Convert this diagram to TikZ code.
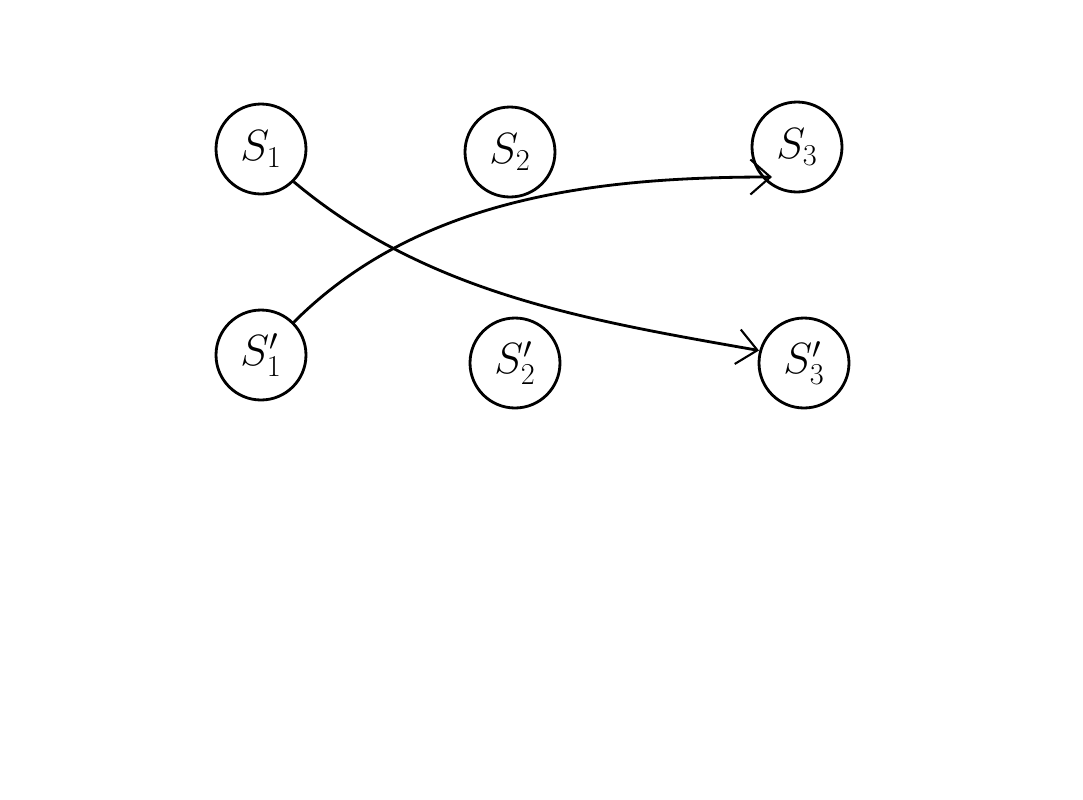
\documentclass[tikz,border=0pt]{standalone}
\usetikzlibrary{arrows.meta}
\begin{document}
\begin{tikzpicture}[x=0.02cm,y=-0.02cm,
  st/.style={draw,circle,line width=1.6pt,minimum size=1.8cm,inner sep=0pt,font=\fontsize{24}{28}\selectfont},
  con/.style={line width=1.6pt,-{Straight Barb[length=4mm,width=7mm,line width=1.2pt]}}]
\useasboundingbox (0,0) rectangle (1083,799);
\node[st] (s1) at (261,149) {$S_1$};
\node[st] (s2) at (510,152) {$S_2$};
\node[st] (s3) at (797,147) {$S_3$};
\node[st] (s1p) at (261,355) {$S_1'$};
\node[st] (s2p) at (515,363) {$S_2'$};
\node[st] (s3p) at (804,363) {$S_3'$};
\draw[con] (s1.-45) to[out=-40,in=170,looseness=0.9] ([xshift=-0.9cm,yshift=0.25cm]s3p.center);
\draw[con] (s1p.45) to[out=45,in=180,looseness=0.9] ([xshift=-0.5cm,yshift=-0.6cm]s3.center);
\end{tikzpicture}
\end{document}
